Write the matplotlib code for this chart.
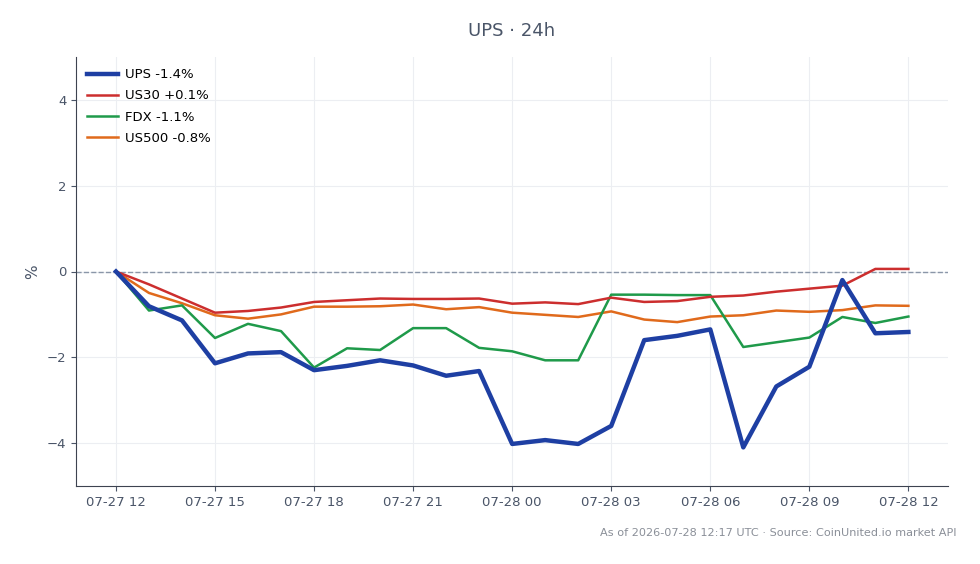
import pandas as pd
import matplotlib
matplotlib.use("Agg")
import matplotlib.pyplot as plt
import matplotlib.dates as mdates

# hourly points, 07-27 12:00 -> 07-28 12:00
times = pd.date_range("2026-07-27 12:00", "2026-07-28 12:00", freq="h")

ups = [0.0, -0.81, -1.14, -2.14, -1.91, -1.88, -2.30, -2.20, -2.07, -2.19, -2.43, -2.32,
       -4.02, -3.93, -4.02, -3.60, -1.60, -1.50, -1.35, -4.10, -2.68, -2.22, -0.20, -1.44, -1.41]
us30 = [0.0, -0.30, -0.63, -0.96, -0.92, -0.84, -0.71, -0.67, -0.63, -0.64, -0.64, -0.63,
        -0.75, -0.72, -0.76, -0.61, -0.71, -0.69, -0.59, -0.56, -0.47, -0.40, -0.33, 0.06, 0.06]
fdx = [0.0, -0.91, -0.79, -1.55, -1.22, -1.39, -2.24, -1.79, -1.83, -1.32, -1.32, -1.78,
       -1.86, -2.07, -2.07, -0.54, -0.54, -0.55, -0.55, -1.76, -1.65, -1.54, -1.06, -1.20, -1.05]
us500 = [0.0, -0.50, -0.74, -1.02, -1.10, -1.00, -0.82, -0.82, -0.81, -0.77, -0.88, -0.83,
         -0.96, -1.01, -1.06, -0.93, -1.12, -1.18, -1.05, -1.02, -0.91, -0.94, -0.90, -0.79, -0.80]

series = [
    ("UPS -1.4%", ups, "#1e3fa3", 3.2),
    ("US30 +0.1%", us30, "#cc2e2e", 1.8),
    ("FDX -1.1%", fdx, "#1f9a4a", 1.8),
    ("US500 -0.8%", us500, "#e06a1c", 1.8),
]

text_col = "#4a5568"

fig = plt.figure(figsize=(9.8, 5.64), dpi=100)
ax = fig.add_axes([76 / 980, 1 - 486 / 564, (948 - 76) / 980, (486 - 57) / 564])

ax.axhline(0, color="#8a96a8", linestyle="--", linewidth=1, zorder=1)
handles = []
for i, (label, vals, col, lw) in enumerate(series):
    line, = ax.plot(times, vals, color=col, linewidth=lw, label=label, zorder=5 - i if i else 6)
    handles.append(line)

ax.set_ylim(-5, 5)
ax.set_yticks([-4, -2, 0, 2, 4])
ax.set_xlim(times[0] - pd.Timedelta(hours=1.21), times[-1] + pd.Timedelta(hours=1.2))
ax.xaxis.set_major_locator(mdates.HourLocator(byhour=range(0, 24, 3)))
ax.xaxis.set_major_formatter(mdates.DateFormatter("%m-%d %H"))

ax.grid(True, color="#eceef2", linewidth=0.8)
ax.set_axisbelow(True)
for s in ["top", "right"]:
    ax.spines[s].set_visible(False)
for s in ["left", "bottom"]:
    ax.spines[s].set_color("#3d4350")
ax.tick_params(colors=text_col, labelsize=9.5)
ax.set_ylabel("%", color=text_col, fontsize=11, labelpad=5)

ax.legend(handles=handles, loc="upper left", frameon=False, fontsize=9.5,
          handlelength=2.3, handletextpad=0.6, borderaxespad=0.45, labelspacing=0.62)

fig.text(512 / 980, 1 - 31 / 564, "UPS · 24h", ha="center", va="center",
         fontsize=13, color=text_col)
fig.text(956 / 980, 1 - 533 / 564, "As of 2026-07-28 12:17 UTC · Source: CoinUnited.io market API",
         ha="right", va="center", fontsize=8.1, color="#8a8f98")

fig.savefig("out.png", dpi=100)
